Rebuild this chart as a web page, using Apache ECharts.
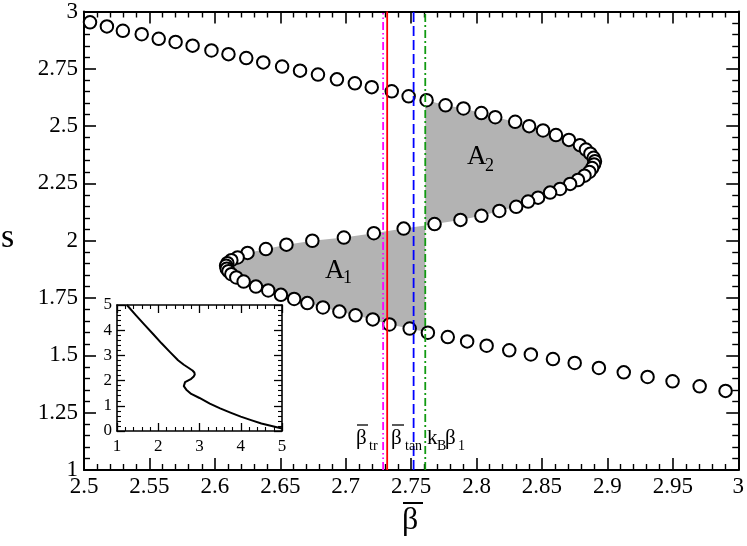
<!DOCTYPE html>
<html><head><meta charset="utf-8">
<script src="https://cdn.jsdelivr.net/npm/echarts@6/dist/echarts.min.js"></script>
<style>html,body{margin:0;padding:0;background:#fff}#c{width:747px;height:546px}</style>
</head><body><div id="c"></div>
<script>
// S-curve points, in the order they lie on the curve
const betaVals = [
  2.5046,2.5175,2.5297,2.5441,2.5571,2.5700,2.5830,2.5974,2.6104,2.6240,
  2.6370,2.6514,2.6651,2.6788,2.6933,2.7070,2.7199,2.7352,2.7481,2.7618,
  2.7763,2.7900,2.8037,2.8143,2.8295,2.8402,2.8508,2.8607,2.8706,2.8790,
  2.8836,2.8870,2.8895,2.8905,2.8898,2.8883,2.8862,2.8825,2.8775,2.8715,
  2.8638,2.8562,2.8470,2.8394,2.8303,2.8174,2.8037,2.7877,2.7679,2.7443,
  2.7215,2.6986,2.6745,2.6547,2.6390,2.6250,2.6174,2.6126,2.6096,2.6086,
  2.6091,2.6104,2.6126,2.6164,2.6220,2.6314,2.6408,2.6505,2.6606,2.6707,
  2.6826,2.6952,2.7075,2.7207,2.7334,2.7489,2.7628,2.7780,2.7928,2.8077,
  2.8250,2.8415,2.8584,2.8750,2.8935,2.9125,2.9307,2.9498,2.9705,2.9903
];
const sVals = [
  2.953,2.935,2.916,2.901,2.881,2.867,2.851,2.830,2.814,2.797,
  2.778,2.760,2.742,2.725,2.704,2.687,2.670,2.652,2.630,2.613,
  2.591,2.577,2.557,2.539,2.519,2.500,2.481,2.461,2.440,2.417,
  2.398,2.380,2.362,2.347,2.333,2.317,2.300,2.284,2.265,2.248,
  2.226,2.210,2.188,2.171,2.148,2.130,2.109,2.091,2.073,2.053,
  2.033,2.014,2.000,1.983,1.964,1.947,1.927,1.915,1.902,1.891,
  1.878,1.867,1.854,1.840,1.822,1.800,1.783,1.764,1.746,1.728,
  1.709,1.691,1.675,1.657,1.635,1.617,1.599,1.580,1.561,1.542,
  1.522,1.504,1.484,1.467,1.445,1.426,1.406,1.387,1.365,1.345
];
// vertical reference lines: beta_tr, beta_bar (solid), beta_tan, kB*beta1
const vLineX = [2.7286, 2.7317, 2.7519, 2.7608];
const vLineColors = ['#ff00ff', '#ff0000', '#0000ff', '#119a11'];
const vLineDash = [[8,3,1.5,3,1.5,3], 'solid', [10,4], [8,3,2,3]];
// inset curve
const insetBeta = [1.24,1.45,1.67,1.88,2.08,2.28,2.48,2.62,2.74,2.83,2.875,2.885,2.86,2.8,2.72,2.65,2.61,2.62,2.68,2.8,3.0,3.25,3.5,3.75,4.0,4.25,4.5,4.75,5.0];
const insetS    = [5.0,4.61,4.21,3.84,3.48,3.14,2.81,2.63,2.5,2.4,2.32,2.24,2.16,2.07,2.0,1.94,1.88,1.78,1.64,1.47,1.31,1.09,0.9,0.73,0.57,0.43,0.3,0.2,0.1];

const serif = 'Liberation Serif';
const curve = betaVals.map((b, i) => [b, sVals[i]]);
const kB = vLineX[3];

// shaded regions: curve pieces between successive crossings of x = kB
const crossings = [];
for (let i = 0; i < curve.length - 1; i++) {
  const a = curve[i], b = curve[i + 1];
  if ((a[0] - kB) * (b[0] - kB) < 0) {
    const t = (kB - a[0]) / (b[0] - a[0]);
    crossings.push({ i: i, p: [kB, a[1] + t * (b[1] - a[1])] });
  }
}
const polygons = [];
for (let k = 0; k + 1 < crossings.length; k++) {
  const c1 = crossings[k], c2 = crossings[k + 1];
  polygons.push([c1.p].concat(curve.slice(c1.i + 1, c2.i + 1), [c2.p]));
}

const fmt = v => String(+v.toFixed(2));
function mainX(pos, show) {
  return {
    type: 'value', gridIndex: 0, position: pos, min: 2.5, max: 3, interval: 0.05,
    axisLine: { show: true, onZero: false, lineStyle: { color: '#000', width: 2 } },
    axisTick: { show: true, inside: true, length: 12, lineStyle: { color: '#000', width: 1.6 } },
    minorTick: { show: true, splitNumber: 5, length: 6, lineStyle: { color: '#000', width: 1.4 } },
    splitLine: { show: false }, minorSplitLine: { show: false },
    axisLabel: { show: show, formatter: fmt, fontFamily: serif, fontSize: 23, color: '#000', margin: 5 }
  };
}
function mainY(pos, show) {
  return {
    type: 'value', gridIndex: 0, position: pos, min: 1, max: 3, interval: 0.25,
    axisLine: { show: true, onZero: false, lineStyle: { color: '#000', width: 2 } },
    axisTick: { show: true, inside: true, length: 12, lineStyle: { color: '#000', width: 1.6 } },
    minorTick: { show: true, splitNumber: 5, length: 6, lineStyle: { color: '#000', width: 1.4 } },
    splitLine: { show: false }, minorSplitLine: { show: false },
    axisLabel: { show: show, formatter: fmt, fontFamily: serif, fontSize: 23, color: '#000', margin: 6 }
  };
}
function insetAx(pos, show, isY) {
  return {
    type: 'value', gridIndex: 1, position: pos, min: isY ? 0 : 1, max: 5, interval: 1, z: 6,
    axisLine: { show: true, onZero: false, lineStyle: { color: '#000', width: 1.6 } },
    axisTick: { show: true, inside: true, length: 8, lineStyle: { color: '#000', width: 1.3 } },
    minorTick: { show: true, splitNumber: 5, length: 4, lineStyle: { color: '#000', width: 1.1 } },
    splitLine: { show: false }, minorSplitLine: { show: false },
    axisLabel: { show: show, fontFamily: serif, fontSize: 17, color: '#000', margin: isY ? 5 : 7 }
  };
}

const series = [
  {
    type: 'custom', xAxisIndex: 0, yAxisIndex: 0, z: 1, silent: true,
    data: polygons.map(p => p[0]),
    renderItem: function (params, api) {
      const pts = polygons[params.dataIndex].map(p => api.coord(p));
      return { type: 'polygon', shape: { points: pts }, style: { fill: '#b3b3b3', stroke: null } };
    }
  },
  {
    type: 'scatter', xAxisIndex: 0, yAxisIndex: 0, z: 2, data: curve,
    symbol: 'circle', symbolSize: 12.5,
    itemStyle: { color: '#fff', borderColor: '#000', borderWidth: 2, opacity: 1 }
  }
];
vLineX.forEach((x, i) => {
  series.push({
    type: 'line', xAxisIndex: 0, yAxisIndex: 0, z: 3, symbol: 'none', silent: true,
    data: [[x, 1], [x, 3]],
    lineStyle: { color: vLineColors[i], width: 1.8, type: vLineDash[i] }
  });
});
series.push({
  type: 'line', xAxisIndex: 2, yAxisIndex: 2, z: 5, symbol: 'none', smooth: false,
  data: insetBeta.map((b, i) => [b, insetS[i]]),
  lineStyle: { color: '#000', width: 2, join: 'round' }
});

function txt(x, y, s, size, align) {
  return { type: 'text', x: x, y: y, z: 10,
    style: { text: s, fontFamily: serif, fontSize: size, fill: '#000', align: align || 'left', verticalAlign: 'middle' } };
}
function bar(x1, x2, y, w) {
  return { type: 'line', z: 10, shape: { x1: x1, y1: y, x2: x2, y2: y }, style: { stroke: '#000', lineWidth: w || 1.3 } };
}
const graphic = [
  txt(1, 238, 's', 34),
  txt(402, 521, 'β', 32), bar(403, 423, 503, 2),
  txt(356, 438, 'β', 21), bar(357, 368, 425), txt(369, 446, 'tr', 14),
  txt(391, 438, 'β', 21), bar(392, 404, 425), txt(405, 446, 'tan', 14),
  txt(427, 438, 'k', 21), txt(437, 446, 'B', 14), txt(445, 438, 'β', 21), txt(458, 446, '1', 14),
  txt(325, 271, 'A', 27), txt(343, 278, '1', 18),
  txt(467, 157, 'A', 27), txt(485, 166, '2', 18)
];

const chart = echarts.init(document.getElementById('c'), null, { renderer: 'canvas' });
chart.setOption({
  animation: false,
  backgroundColor: '#fff',
  grid: [
    { left: 84, right: 6, top: 10, bottom: 76 },
    { left: 117, top: 305, width: 165, height: 126, show: true, backgroundColor: '#fff', borderWidth: 0, z: 4 }
  ],
  xAxis: [mainX('bottom', true), mainX('top', false), insetAx('bottom', true, false), insetAx('top', false, false)],
  yAxis: [mainY('left', true), mainY('right', false), insetAx('left', true, true), insetAx('right', false, true)],
  series: series,
  graphic: graphic
});
</script>
</body></html>
